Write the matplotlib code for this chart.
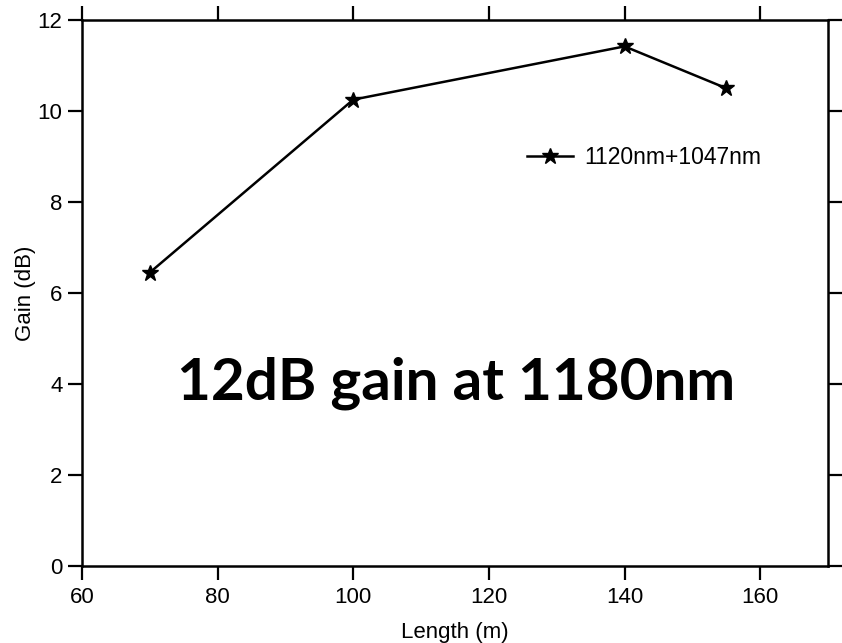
import matplotlib
matplotlib.use("Agg")
import matplotlib.pyplot as plt

# Gain versus fiber length
length_m = [70, 100, 140, 155]
gain_db = [6.45, 10.25, 11.42, 10.5]
series_label = "1120nm+1047nm"
x_ticks = [60, 80, 100, 120, 140, 160]
y_ticks = [0, 2, 4, 6, 8, 10, 12]

plt.rcParams['font.family'] = ['Liberation Sans', 'DejaVu Sans']

fig = plt.figure(figsize=(8.42, 6.43), dpi=100)
ax = fig.add_axes([82 / 842, 1 - 566 / 643, (828 - 82) / 842, (566 - 20) / 643])

ax.plot(length_m, gain_db, color='black', lw=1.8, marker='*', ms=12,
        label=series_label)

ax.set_xlim(60, 170)
ax.set_ylim(0, 12)
ax.set_xticks(x_ticks)
ax.set_yticks(y_ticks)
ax.tick_params(direction='out', length=10, width=1.6, labelsize=16,
               top=True, right=True)
ax.tick_params(axis='x', labeltop=False, pad=5)
ax.tick_params(axis='y', labelright=False, pad=4)
for s in ax.spines.values():
    s.set_linewidth(1.8)

ax.set_xlabel("Length (m)", fontsize=16, labelpad=10)
ax.set_ylabel("Gain (dB)", fontsize=16, labelpad=1)

ax.legend(loc='center left', bbox_to_anchor=(0.597, 0.749), frameon=False,
          fontsize=16.5, handlelength=2.0, handletextpad=0.5,
          borderaxespad=0, borderpad=0)

ax.text(115.1, 3.65, "12dB gain at 1180nm", ha='center', va='baseline',
        fontsize=42, fontweight='bold', family=['Lato', 'DejaVu Sans'])

fig.savefig("out.png", dpi=100)
